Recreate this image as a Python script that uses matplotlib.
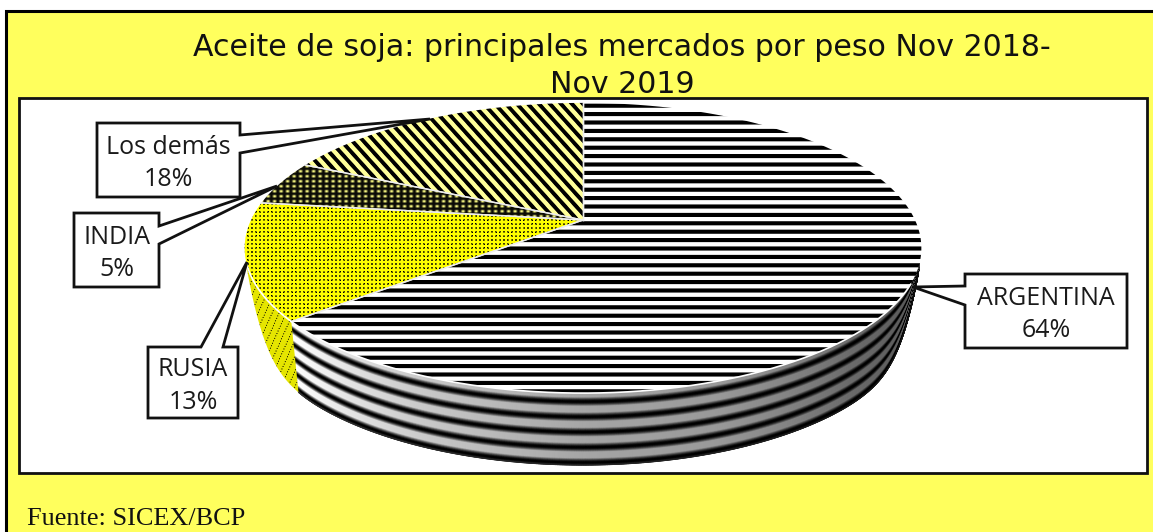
import numpy as np
import matplotlib
matplotlib.use("Agg")
import matplotlib.pyplot as plt
from matplotlib.patches import Polygon, Rectangle

title = "Aceite de soja: principales mercados por peso Nov 2018-\nNov 2019"
source = "Fuente: SICEX/BCP"
names = ["ARGENTINA", "RUSIA", "INDIA", "Los demás"]
shares = [64, 13, 5, 18]

# callout boxes: left, top, right, bottom, then leader base a, base b, tip
boxes = {
    "ARGENTINA": (965, 274, 1127, 348, (965, 286), (965, 305), (913, 287)),
    "RUSIA": (148, 347, 238, 418, (201, 347), (223, 347), (247, 262)),
    "INDIA": (74, 213, 159, 287, (159, 226), (159, 244), (277, 186)),
    "Los demás": (97, 123, 240, 197, (240, 135), (240, 153), (430, 119)),
}

W, H = 1153, 532
YELLOW = "#ffff5d"
CX, CY = 583, 220   # where the slices meet
TILT = 0.193


def project(theta):
    t = np.radians(theta)
    u, v = np.cos(t), np.sin(t)
    return CX + 332 * u / (1 + TILT * v), CY - 139.7 * v / (1 + TILT * v)


def wall_offset(x):
    # wall of the disc is full height except near both side ends
    ang = np.degrees(np.arccos(np.clip(np.abs(x - CX) / 338, 0, 1)))
    return 72 * (1 - np.exp(-(ang / 15) ** 2))


def wall_grid(th, s):
    rx, ry = project(th)
    off = wall_offset(rx)
    XX = np.outer(np.ones_like(s), rx) + np.outer(s, (CX - rx) * 0.025 * off / 72)
    YY = np.outer(np.ones_like(s), ry) + np.outer(s, off)
    return XX, YY


def textures():
    X, Y = np.meshgrid(np.arange(W) + .5, np.arange(H) + .5)
    tex = {}
    g = np.clip(0.55 - 1.5 * np.cos(2 * np.pi * (Y - 105.7) / 8.4), 0, 1)
    tex["ARGENTINA"] = np.dstack([g, g, g])

    dots = np.cos(2 * np.pi * (X + Y) / 8) * np.cos(2 * np.pi * (X - Y) / 8)
    fine = 0.5 + 0.5 * np.cos(np.pi * X / 1.5) * np.cos(np.pi * Y / 1.5)
    g = np.clip(1.1 - 1.5 * np.clip(dots, 0, 1) ** 1.2 * (0.4 + 0.6 * fine) - 0.12 * fine, 0, 1)
    tex["RUSIA"] = np.dstack([g, g, 0 * g])

    g = ((0.5 + 0.5 * np.sin(2 * np.pi * X / 6.5)) * (0.5 + 0.5 * np.sin(2 * np.pi * Y / 5))) ** 1.1
    tex["INDIA"] = np.dstack([.04 + .95 * g, .04 + .95 * g, .02 + .5 * g])

    g = np.clip(0.6 + 1.5 * np.cos(2 * np.pi * (X - 0.9 * Y) / 11), 0, 1)
    tex["Los demás"] = np.dstack([g, g, .6 * g])

    g = np.clip(1.25 - 1.1 * np.clip(np.cos(2 * np.pi * (X + .45 * Y) / 7), 0, 1) ** 3
                * (0.5 + 0.5 * np.cos(2 * np.pi * (X - 2 * Y) / 6)), 0, 1)
    tex["side"] = np.dstack([.9 * g, .9 * g, 0 * g])
    return tex


fig = plt.figure(figsize=(W / 100, H / 100), dpi=100, facecolor="white")
ax = fig.add_axes([0, 0, 1, 1])
ax.set_xlim(0, W)
ax.set_ylim(H, 0)
ax.axis("off")

# chart background
ax.add_patch(Rectangle((6, 11), W, H, fc=YELLOW, ec="black", lw=2.2, zorder=1))
ax.text(622, 66, title, ha="center", va="center", fontsize=21.6, family="DejaVu Sans",
        color="#111111", linespacing=1.32, zorder=2)
ax.add_patch(Rectangle((19, 98), 1128, 375, fc="white", ec="#111111", lw=2, zorder=3))
ax.text(27, 525, source, ha="left", va="baseline", fontsize=18.9, family="Liberation Serif",
        color="#111111", zorder=2)

# pie only used for its slice angles
helper = fig.add_axes([0, 0, .1, .1])
wedges, _ = helper.pie(shares, startangle=90, counterclock=False)
helper.set_visible(False)

tex = textures()

# argentina wall, banded, goes from the right end round to where the slice stops
arg = wedges[0]
a_end = arg.theta1 - 360 if arg.theta1 > 0 else arg.theta1
th = np.linspace(-17, a_end, 500)
s = np.linspace(0, 1, 160)
XX, YY = wall_grid(th, s)
light = np.interp(-th, [17, 45, 70, 90, 115, 140], [.32, .42, .6, .65, .8, 1])
band = np.clip(1.5 * (0.5 - 0.5 * np.cos(2 * np.pi * (s - .125) / .2115)), 0, 1)
ax.pcolormesh(XX, YY, np.outer(band, light), cmap="gray", vmin=0, vmax=1,
              shading="gouraud", zorder=4)

# russia wall
th = np.linspace(a_end, -163, 60)
XX, YY = wall_grid(th, np.array([0.0, 1.0]))
side = Polygon(np.r_[np.c_[XX[0], YY[0]], np.c_[XX[1], YY[1]][::-1]], closed=True, transform=ax.transData)
im = ax.imshow(tex["side"], extent=(0, W, H, 0), interpolation="bilinear", aspect="auto", zorder=4)
im.set_clip_path(side)

# top of the disc
for name, w in zip(names, wedges):
    th = np.linspace(w.theta1, w.theta2, 200)
    rx, ry = project(th)
    pts = np.r_[[[CX, CY]], np.c_[rx, ry]]
    poly = Polygon(pts, closed=True, transform=ax.transData)
    im = ax.imshow(tex[name], extent=(0, W, H, 0), interpolation="bilinear", aspect="auto", zorder=5)
    im.set_clip_path(poly)
    ax.plot(*pts[[0, 1]].T, color="#eeeeee", lw=1, zorder=6)
    ax.plot(*pts[[0, -1]].T, color="#eeeeee", lw=1, zorder=6)

# light edge where disc top meets the wall
th = np.linspace(-25, a_end - 22, 300)
ax.plot(*project(th), color="white", lw=1.2, zorder=6)
ax.set_xlim(0, W)
ax.set_ylim(H, 0)

# callouts
for name, share in zip(names, shares):
    l, t, r, b, p1, p2, tip = boxes[name]
    if p1[1] == t:      # leader leaves the top edge
        pts = [(l, t), p1, tip, p2, (r, t), (r, b), (l, b)]
    elif p1[0] == r:    # right edge
        pts = [(l, t), (r, t), p1, tip, p2, (r, b), (l, b)]
    else:               # left edge
        pts = [(l, t), (r, t), (r, b), (l, b), p2, tip, p1]
    ax.add_patch(Polygon(pts, closed=True, fc="white", ec="#111111", lw=2, joinstyle="miter", zorder=7))
    ax.text((l + r) / 2, (t + b) / 2 + 3.5, f"{name}\n{share}%", ha="center", va="center", fontsize=18,
            family="Open Sans", color="#1a1a1a", linespacing=1.42, zorder=8)

fig.savefig("out.png", dpi=100, facecolor="white")
